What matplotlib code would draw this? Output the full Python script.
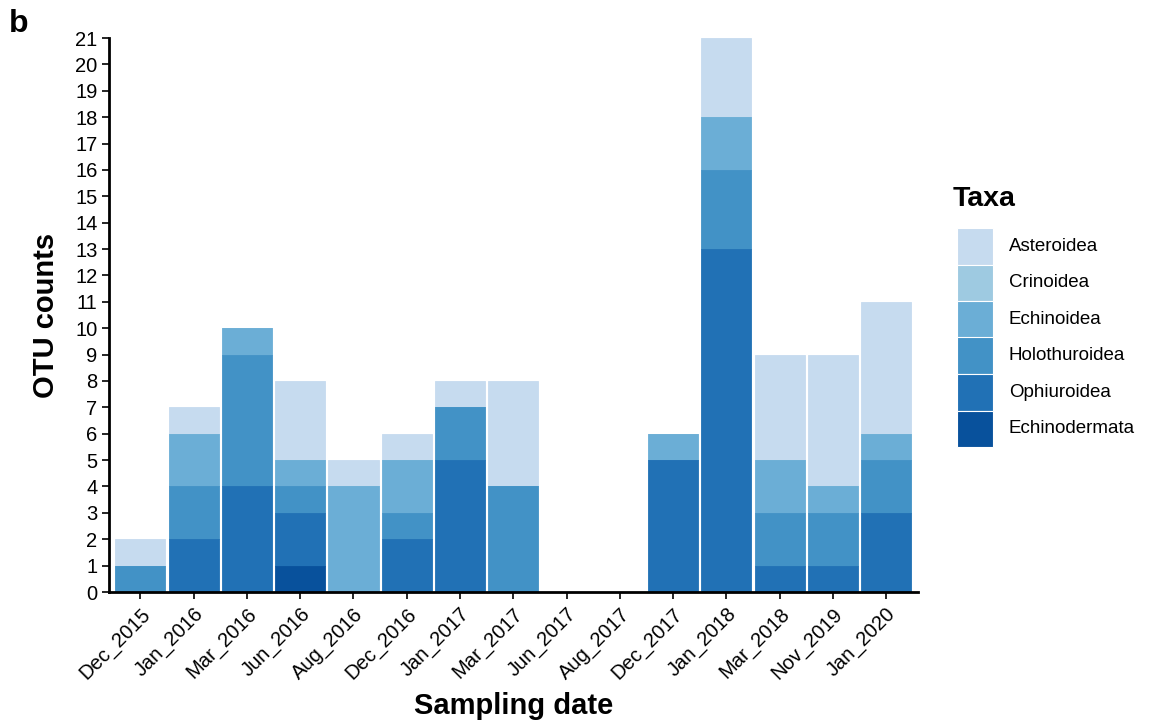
import matplotlib
matplotlib.use("Agg")
import matplotlib.pyplot as plt
from matplotlib.patches import Rectangle
import numpy as np

plt.rcParams['font.family'] = ['Liberation Sans', 'DejaVu Sans']

dates = ["Dec_2015", "Jan_2016", "Mar_2016", "Jun_2016", "Aug_2016", "Dec_2016",
         "Jan_2017", "Mar_2017", "Jun_2017", "Aug_2017", "Dec_2017", "Jan_2018",
         "Mar_2018", "Nov_2019", "Jan_2020"]

# stacked from bottom to top
echinodermata = [0, 0, 0, 1, 0, 0, 0, 0, 0, 0, 0, 0, 0, 0, 0]
ophiuroidea   = [0, 2, 4, 2, 0, 2, 5, 0, 0, 0, 5, 13, 1, 1, 3]
holothuroidea = [1, 2, 5, 1, 0, 1, 2, 4, 0, 0, 0, 3, 2, 2, 2]
echinoidea    = [0, 2, 1, 1, 4, 2, 0, 0, 0, 0, 1, 2, 2, 1, 1]
crinoidea     = [0, 0, 0, 0, 0, 0, 0, 0, 0, 0, 0, 0, 0, 0, 0]
asteroidea    = [1, 1, 0, 3, 1, 1, 1, 4, 0, 0, 0, 3, 4, 5, 5]

taxa = ["Asteroidea", "Crinoidea", "Echinoidea", "Holothuroidea", "Ophiuroidea", "Echinodermata"]
colors = ["#C6DBEF", "#9ECAE1", "#6BAED6", "#4292C6", "#2171B5", "#08519C"]

stack_order = [("Echinodermata", echinodermata), ("Ophiuroidea", ophiuroidea),
               ("Holothuroidea", holothuroidea), ("Echinoidea", echinoidea),
               ("Crinoidea", crinoidea), ("Asteroidea", asteroidea)]
cmap = dict(zip(taxa, colors))

W, H = 1159, 728
fig = plt.figure(figsize=(W / 100, H / 100), dpi=100)
ax = fig.add_axes([108.5 / W, 1 - 592 / H, (918 - 108.5) / W, (592 - 38) / H])

x = np.arange(len(dates))
bottoms = []
b = np.zeros(len(dates))
for name, vals in stack_order:
    bottoms.append(b.copy())
    b = b + np.array(vals, dtype=float)

# draw top layers first so darker zero-height outlines end up on top
for (name, vals), bot in reversed(list(zip(stack_order, bottoms))):
    ax.bar(x, vals, bottom=bot, width=0.94, color=cmap[name],
           edgecolor=cmap[name], linewidth=0.6, zorder=2)

ax.set_xlim(-0.6, 14.6)
ax.set_ylim(0, 21)
ax.set_yticks(range(0, 22))
ax.set_xticks(x)
ax.set_xticklabels(dates, rotation=45, ha='right', rotation_mode='anchor', fontsize=14.5)
ax.tick_params(axis='y', labelsize=14.5, length=5, width=1.2, pad=3)
ax.tick_params(axis='x', length=5, width=1.2, pad=4)
for s in ['top', 'right']:
    ax.spines[s].set_visible(False)
for s in ['left', 'bottom']:
    ax.spines[s].set_linewidth(2)

ax.set_ylabel("OTU counts", fontsize=21, fontweight='bold', va='center')
ax.yaxis.set_label_coords((46 - 108.5) / (918 - 108.5), 0.5)
ax.set_xlabel("Sampling date", fontsize=21, fontweight='bold', va='center')
ax.xaxis.set_label_coords(0.5, (592 - 706) / (592 - 38))

fig.text(9 / W, 1 - 24 / H, "b", fontsize=23, fontweight='bold', ha='left', va='center')

# legend (drawn manually in figure pixel coordinates)
fig.text(953 / W, 1 - 199 / H, "Taxa", fontsize=20.5, fontweight='bold', ha='left', va='center')
key_x0, key_x1 = 957, 993
key_top, key_h = 228, 36.5
for i, (t, c) in enumerate(zip(taxa, colors)):
    y0 = key_top + i * key_h
    fig.add_artist(Rectangle((key_x0 / W, 1 - (y0 + key_h) / H), (key_x1 - key_x0) / W, key_h / H,
                             transform=fig.transFigure, facecolor=c, edgecolor='white', linewidth=0.8))
    fig.text(1009 / W, 1 - (y0 + key_h / 2) / H, t, fontsize=13.5, ha='left', va='center')

fig.savefig("out.png", dpi=100)
